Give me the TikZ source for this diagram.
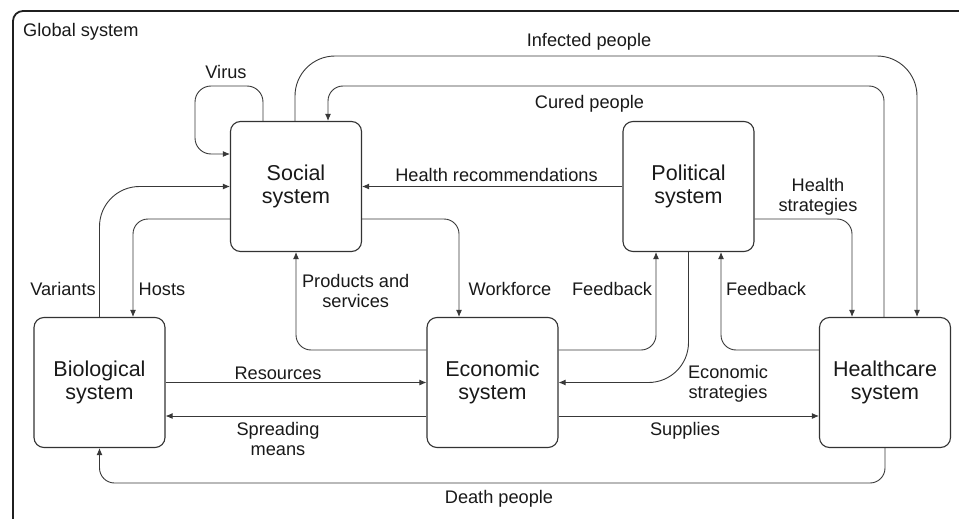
\documentclass[tikz,border=0pt]{standalone}
\usepackage{fontspec}
\setmainfont{Liberation Sans}
\usepackage{tikz}
\usetikzlibrary{arrows.meta}

\begin{document}
\begin{tikzpicture}[x=1pt,y=-1pt,
    sysbox/.style={draw=black!80,line width=1.1pt,rounded corners=10pt,
        minimum width=131pt,minimum height=130pt,align=center,
        font=\fontsize{21.5}{22.5}\selectfont,text=black!90},
    lbl/.style={align=center,inner sep=0pt,
        font=\fontsize{18.2}{20}\selectfont,text=black!90},
    flow/.style={draw=black!78,line width=0.9pt,-{Latex[length=7pt,width=6pt]}}
    ]
\clip (0,0) rectangle (959,519);
\draw[black!88,line width=1.8pt,rounded corners=10pt] (13,11) rectangle (975,535);
\node[lbl,anchor=base west] (glob) at (23,36.5) {Global system};

\node[sysbox] (soc) at (296,186.5) {Social\\system};
\node[sysbox] (pol) at (688.5,186.5) {Political\\system};
\node[sysbox] (bio) at (99.5,382.5) {Biological\\system};
\node[sysbox] (eco) at (492.5,382.5) {Economic\\system};
\node[sysbox] (hea) at (885,382.5) {Healthcare\\system};

\begin{scope}[rounded corners=15pt]
\draw[flow,rounded corners=16pt] (263,0 |- soc.north) -- (263,86) -- (195,86) -- (195,154) -- (soc.west |- 0,154);
\draw[flow,rounded corners=40pt] (295,0 |- soc.north) -- (295,56) -- (917,56) -- (917,0 |- hea.north);
\draw[flow] (884,0 |- hea.north) -- (884,86) -- (328,86) -- (328,0 |- soc.north);
\draw[flow] (pol.west) -- (soc.east);
\draw[flow] (pol.east |- 0,219) -- (852,219) -- (852,0 |- hea.north);
\draw[flow,rounded corners=40pt] (bio.north) -- (bio.north |- soc.west) -- (soc.west);
\draw[flow] (soc.west |- 0,219) -- (133,219) -- (133,0 |- bio.north);
\draw[flow] (soc.east |- 0,219) -- (459,219) -- (459,0 |- eco.north);
\draw[flow] (eco.west |- 0,350) -- (soc.south |- 0,350) -- (soc.south);
\draw[flow] (eco.east |- 0,350) -- (656,350) -- (656,0 |- pol.south);
\draw[flow,rounded corners=40pt] (pol.south) -- (pol.south |- eco.east) -- (eco.east);
\draw[flow] (hea.west |- 0,350) -- (721,350) -- (721,0 |- pol.south);
\draw[flow] (bio.east) -- (eco.west);
\draw[flow] (eco.west |- 0,416) -- (bio.east |- 0,416);
\draw[flow] (eco.east |- 0,416) -- (hea.west |- 0,416);
\draw[flow] (hea.south) -- (hea.south |- 0,483) -- (bio.south |- 0,483) -- (bio.south);
\end{scope}

\node[lbl,anchor=base] (virus) at (226,79) {Virus};
\node[lbl,anchor=base] (infected) at (589,46.5) {Infected people};
\node[lbl,anchor=base] (cured) at (589.5,108) {Cured people};
\node[lbl,anchor=base] (healthrec) at (496.5,181) {Health recommendations};
\node[lbl,anchor=north] (healthstr) at (818,178) {Health\\strategies};
\node[lbl,anchor=base] (variants) at (63,295) {Variants};
\node[lbl,anchor=base] (hosts) at (162,295) {Hosts};
\node[lbl,anchor=north] (prodserv) at (355.7,274.3) {Products and\\services};
\node[lbl,anchor=base] (workforce) at (510,295) {Workforce};
\node[lbl,anchor=base] (feedbackeco) at (612,295) {Feedback};
\node[lbl,anchor=base] (feedbackhea) at (766,295) {Feedback};
\node[lbl,anchor=north] (ecostr) at (728,365.5) {Economic\\strategies};
\node[lbl,anchor=base] (resources) at (278,379) {Resources};
\node[lbl,anchor=north] (spreading) at (278,422) {Spreading\\means};
\node[lbl,anchor=base] (supplies) at (685,435) {Supplies};
\node[lbl,anchor=base] (death) at (499,503) {Death people};
\end{tikzpicture}
\end{document}
